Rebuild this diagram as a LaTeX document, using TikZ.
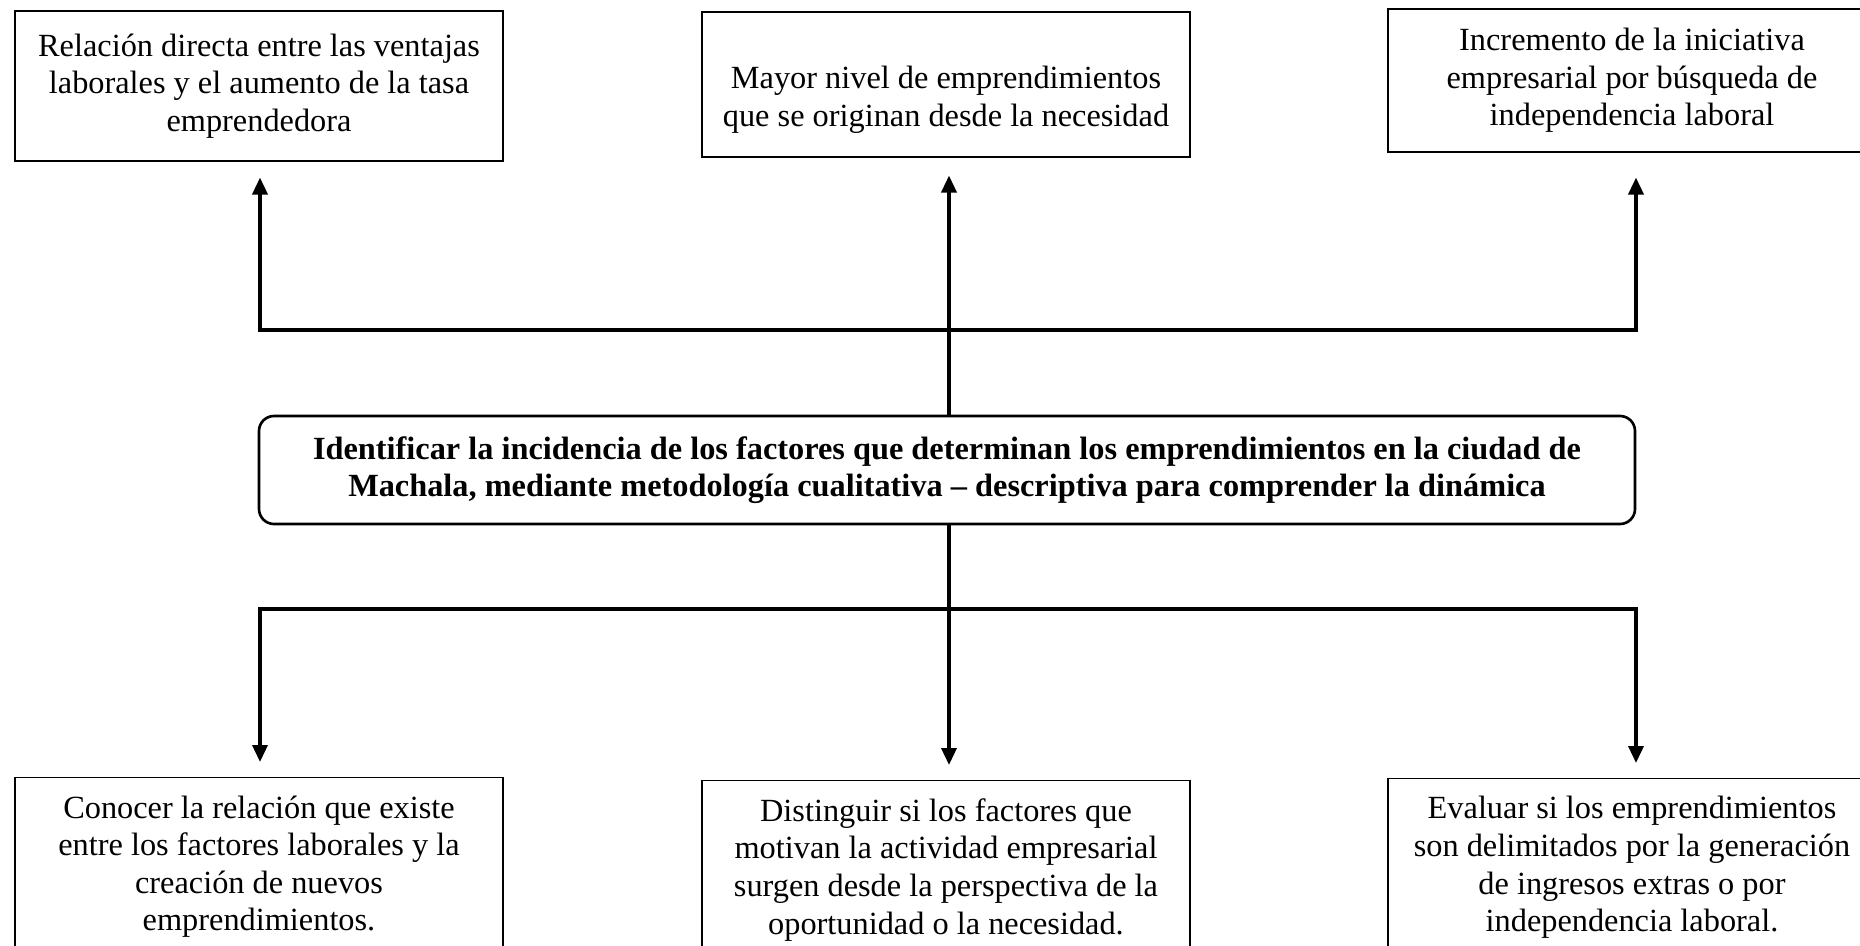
\documentclass[tikz,border=0pt]{standalone}
\usepackage{fontspec}
\setmainfont{Liberation Serif}
\usetikzlibrary{positioning, arrows.meta}

\begin{document}
\begin{tikzpicture}[x=0.1mm, y=-0.1mm, >={Triangle[length=1.7mm, width=1.5mm]},
    box/.style={draw, rectangle, line width=0.3pt, align=center, minimum width=48.8mm, font=\fontsize{9.2}{10.7}\selectfont},
    goalbox/.style={draw, rectangle, rounded corners=1.5mm, line width=0.75pt, align=center, minimum width=137.6mm, minimum height=10.8mm, font=\bfseries\fontsize{9.2}{10.6}\selectfont},
    link/.style={line width=1pt}]

        \useasboundingbox (0,0) rectangle (1860,946);
        \clip (0,0) rectangle (1860,946);

        \node (res1) [box, minimum height=15mm] at (259,86) {Relación directa entre las ventajas\\laborales y el aumento de la tasa\\emprendedora};
        \node (res2) [box, minimum height=14.5mm] at (946,84.5) {\rule{0pt}{15pt}Mayor nivel de emprendimientos\\que se originan desde la necesidad};
        \node (res3) [box, minimum height=14.3mm] at (1632,80.5) {Incremento de la iniciativa\\empresarial por búsqueda de\\independencia laboral};

        \node (goal) [goalbox] at (947,470) {Identificar la incidencia de los factores que determinan los emprendimientos en la ciudad de\\Machala, mediante metodología cualitativa -- descriptiva para comprender la dinámica};

        \node (obj1) [box, anchor=north, inner ysep=1.8mm] at (259,777) {Conocer la relación que existe\\entre los factores laborales y la\\creación de nuevos\\emprendimientos.};
        \node (obj2) [box, anchor=north, inner ysep=1.8mm] at (946,780) {Distinguir si los factores que\\motivan la actividad empresarial\\surgen desde la perspectiva de la\\oportunidad o la necesidad.};
        \node (obj3) [box, anchor=north, inner ysep=1.8mm] at (1632,778) {Evaluar si los emprendimientos\\son delimitados por la generación\\de ingresos extras o por\\independencia laboral.};

        \coordinate (up1) at (260,330);
        \coordinate (up2) at (949,330);
        \coordinate (up3) at (1636,330);
        \coordinate (down1) at (260,609);
        \coordinate (down2) at (949,609);
        \coordinate (down3) at (1636,609);

        \draw [link, line cap=rect] (up1) -- (up3);
        \draw [link, ->, shorten >=1.6mm] (up1) -- (up1 |- res1.south);
        \draw [link, ->, shorten >=1.8mm] (up2) -- (up2 |- res2.south);
        \draw [link, ->, shorten >=2.5mm] (up3) -- (up3 |- res3.south);
        \draw [link] (up2) -- (up2 |- goal.north);

        \draw [link] (down2 |- goal.south) -- (down2);
        \draw [link, line cap=rect] (down1) -- (down3);
        \draw [link, ->, shorten >=1.5mm] (down1) -- (down1 |- obj1.north);
        \draw [link, ->, shorten >=1.5mm] (down2) -- (down2 |- obj2.north);
        \draw [link, ->, shorten >=1.5mm] (down3) -- (down3 |- obj3.north);
    \end{tikzpicture}
\end{document}
